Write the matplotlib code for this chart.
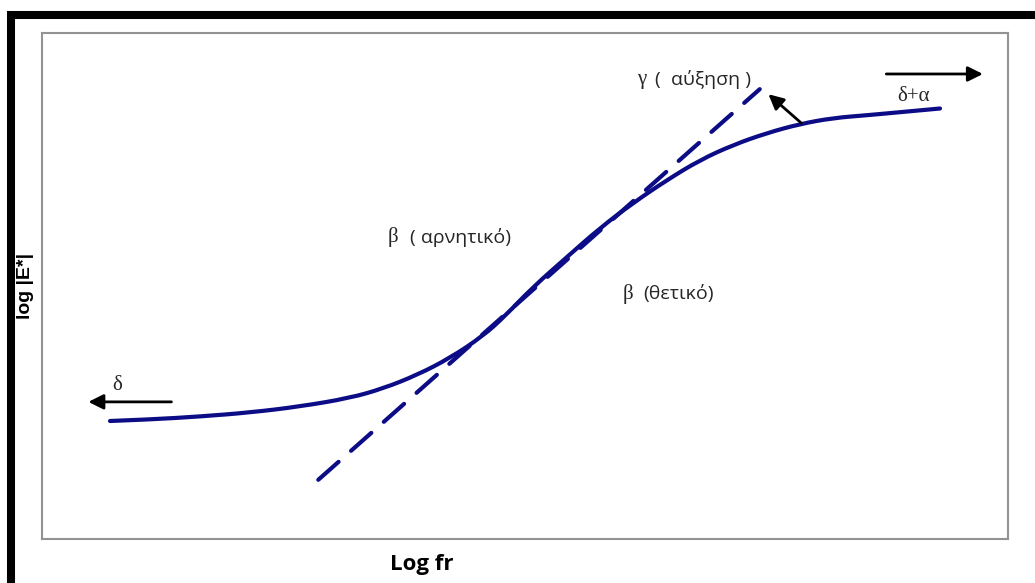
import matplotlib
matplotlib.use("Agg")
import matplotlib.pyplot as plt
from matplotlib.lines import Line2D
from matplotlib.path import Path
from matplotlib.patches import PathPatch

# Master curve of the dynamic modulus (schematic sigmoid)
log_fr = [0.704, 1.118, 1.636, 2.153, 2.671, 3.188, 3.530, 3.882, 4.224,
          4.565, 4.793, 5.083, 5.435, 5.776, 6.118, 6.470, 6.812, 7.153,
          7.505, 7.847, 8.188, 8.540, 8.882, 9.296]
log_E = [2.332, 2.362, 2.421, 2.500, 2.619, 2.787, 2.974, 3.241, 3.577,
         4.012, 4.407, 4.980, 5.573, 6.146, 6.640, 7.095, 7.490, 7.787,
         8.024, 8.202, 8.320, 8.375, 8.435, 8.508]

# Tangent through the inflection point (slope gamma)
tangent_x = [2.86, 7.43]
tangent_y = [1.17, 8.89]

# Annotation arrows: (start, end)
arrow_delta = ((1.34, 2.71), (0.48, 2.71))
arrow_upper = ((8.74, 9.19), (9.74, 9.19))
arrow_gamma = ((7.86, 8.22), (7.52, 8.79))

curve_color = "#0c0c86"
text_color = "#262626"
serif = ["Liberation Serif", "DejaVu Serif"]
sans = ["Open Sans", "DejaVu Sans"]


def smooth_path(xs, ys):
    """Quadratic Bezier path through the midpoints of successive points."""
    pts = list(zip(xs, ys))
    verts = [pts[0]]
    codes = [Path.MOVETO]
    for i in range(1, len(pts) - 1):
        mid = ((pts[i][0] + pts[i + 1][0]) / 2, (pts[i][1] + pts[i + 1][1]) / 2)
        if i == len(pts) - 2:
            mid = pts[-1]
        verts += [pts[i], mid]
        codes += [Path.CURVE3, Path.CURVE3]
    return Path(verts, codes)


fig = plt.figure(figsize=(10.35, 5.83), dpi=100)
ax = fig.add_axes([42 / 1035, 44 / 583, 966 / 1035, 506 / 583])
ax.set_xlim(0, 10)
ax.set_ylim(0, 10)
ax.set_xticks([])
ax.set_yticks([])
for s in ax.spines.values():
    s.set_color("#929292")
    s.set_linewidth(1.5)

ax.add_patch(PathPatch(smooth_path(log_fr, log_E), facecolor="none",
                       edgecolor=curve_color, lw=3.0, capstyle="round",
                       joinstyle="round"))
ax.plot(tangent_x, tangent_y, color=curve_color, lw=3.0, dashes=(6.5, 4.0),
        dash_capstyle="round")

for (x0, y0), (x1, y1) in (arrow_delta, arrow_upper, arrow_gamma):
    ax.annotate("", xy=(x1, y1), xytext=(x0, y0),
                arrowprops=dict(arrowstyle="-|>,head_length=0.9,head_width=0.45",
                                color="black", lw=2.0, shrinkA=0, shrinkB=0))

# Labels: Greek parameter symbols in serif, descriptions in sans
ax.text(0.78, 3.04, "δ", family=serif, fontsize=15, color=text_color,
        ha="center", va="center")
ax.text(9.02, 8.75, "δ+α", family=serif, fontsize=15, color=text_color,
        ha="center", va="center")

ax.text(6.16, 9.09, "γ", family=serif, fontsize=15, color=text_color,
        ha="left", va="center")
ax.text(6.35, 9.09, "(  αύξηση )", family=sans, fontsize=14, color=text_color,
        ha="left", va="center")

ax.text(3.58, 5.96, "β", family=serif, fontsize=15, color=text_color,
        ha="left", va="center")
ax.text(3.81, 5.96, "( αρνητικό)", family=sans, fontsize=14, color=text_color,
        ha="left", va="center")

ax.text(6.01, 4.85, "β", family=serif, fontsize=15, color=text_color,
        ha="left", va="center")
ax.text(6.22, 4.85, "(θετικό)", family=sans, fontsize=14, color=text_color,
        ha="left", va="center")

fig.text(25 / 1035, 1 - 286 / 583, "log |E*|", rotation=90, fontsize=14,
         fontweight="bold", family=["Liberation Sans", "DejaVu Sans"],
         ha="center", va="center")
fig.text(422 / 1035, 1 - 570 / 583, "Log fr", fontsize=16, fontweight="bold",
         family=["Open Sans", "DejaVu Sans"], ha="center", va="baseline")

# Heavy black frame along the top and left edges
fig.add_artist(Line2D([7 / 1035, 1.0], [1 - 15 / 583, 1 - 15 / 583],
                      color="black", lw=5.8, solid_capstyle="butt"))
fig.add_artist(Line2D([11 / 1035, 11 / 1035], [0.0, 1 - 11 / 583],
                      color="black", lw=5.8, solid_capstyle="butt"))

fig.savefig("out.png", dpi=100)
